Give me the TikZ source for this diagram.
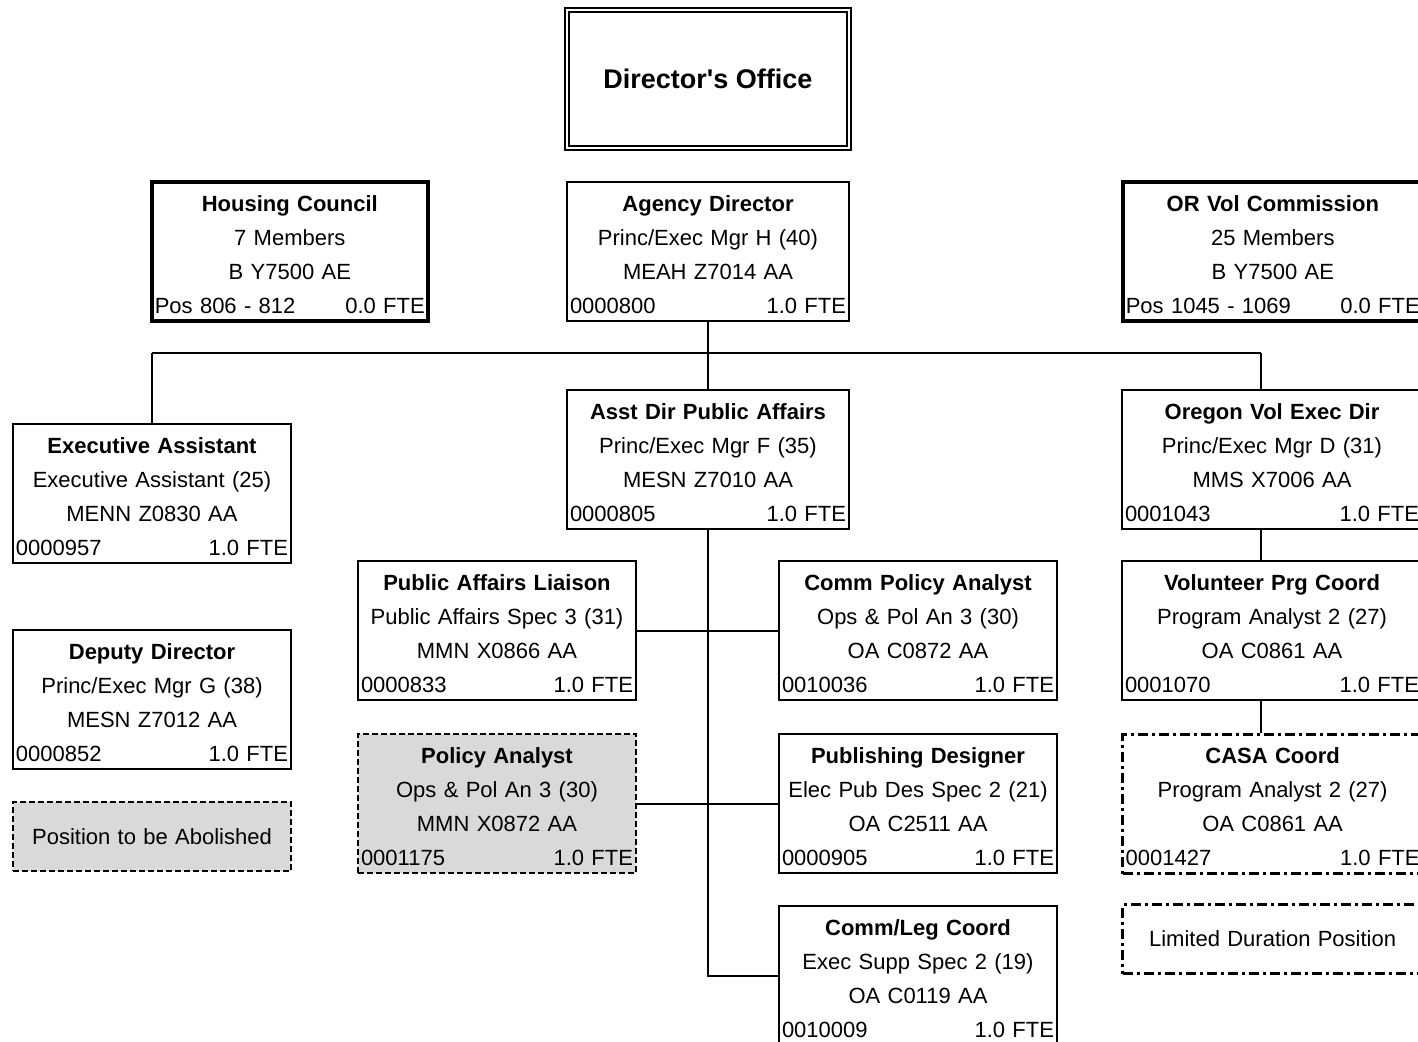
\documentclass[tikz,border=0pt]{standalone}
\usepackage{fontspec}
\newfontfamily\orgfont{Liberation Sans}
\usepackage{tikz}
\usetikzlibrary{positioning}
\definecolor{abolgray}{RGB}{217,217,217}
% position title line, with a little extra room above it
\newcommand{\ptitle}[1]{\rule{0pt}{11pt}\textbf{#1}}

\begin{document}
\begin{tikzpicture}[x=0.5pt, y=-0.5pt,
    posn/.style={draw, line width=1pt, anchor=north west,
        minimum height=69.5pt, inner xsep=1.5pt, inner ysep=0pt,
        text width=136pt, align=center,
        font=\orgfont\fontsize{11}{17}\selectfont},
    wide/.style={text width=138pt},
    edgebox/.style={text width=147pt},
    board/.style={posn, line width=1.8pt, text width=135pt},
    abolish/.style={posn, fill=abolgray, dash pattern=on 3pt off 1.5pt},
    limited/.style={posn, line width=1.6pt,
        dash pattern=on 5pt off 2pt on 1.5pt off 2pt},
    legend/.style={minimum height=34.5pt},
    office/.style={draw, line width=0.9pt, double, double distance=1.2pt,
        anchor=north west, minimum width=141pt, minimum height=69pt,
        font=\orgfont\bfseries\fontsize{13.5}{16}\selectfont},
    conn/.style={line width=1pt}]

    \useasboundingbox (0,0) rectangle (1418,1042);
    \clip (0,0) rectangle (1418,1042);

    \node[office] (office) at (566,9) {Director's Office};

    % top row
    \node[board] (housing) at (150,180)
        {\ptitle{Housing Council}\\7 Members\\B Y7500 AE\\Pos 806 - 812\hfill 0.0 FTE};
    \node[posn, wide] (agency) at (566,181)
        {\ptitle{Agency Director}\\Princ/Exec Mgr H (40)\\MEAH Z7014 AA\\0000800\hfill 1.0 FTE};
    \node[board, edgebox] (orvol) at (1121,180)
        {\ptitle{OR Vol Commission}\\25 Members\\B Y7500 AE\\Pos 1045 - 1069\hfill 0.0 FTE};

    % second row
    \node[posn] (execasst) at (12,423)
        {\ptitle{Executive Assistant}\\Executive Assistant (25)\\MENN Z0830 AA\\0000957\hfill 1.0 FTE};
    \node[posn, wide] (asstdir) at (566,389)
        {\ptitle{Asst Dir Public Affairs}\\Princ/Exec Mgr F (35)\\MESN Z7010 AA\\0000805\hfill 1.0 FTE};
    \node[posn, edgebox] (oregon) at (1121,389)
        {\ptitle{Oregon Vol Exec Dir}\\Princ/Exec Mgr D (31)\\MMS X7006 AA\\0001043\hfill 1.0 FTE};

    % staff
    \node[posn] (pubaff) at (357,560)
        {\ptitle{Public Affairs Liaison}\\Public Affairs Spec 3 (31)\\MMN X0866 AA\\0000833\hfill 1.0 FTE};
    \node[posn] (commpol) at (778,560)
        {\ptitle{Comm Policy Analyst}\\Ops \& Pol An 3 (30)\\OA C0872 AA\\0010036\hfill 1.0 FTE};
    \node[posn, edgebox] (volprg) at (1121,560)
        {\ptitle{Volunteer Prg Coord}\\Program Analyst 2 (27)\\OA C0861 AA\\0001070\hfill 1.0 FTE};
    \node[posn] (deputy) at (12,629)
        {\ptitle{Deputy Director}\\Princ/Exec Mgr G (38)\\MESN Z7012 AA\\0000852\hfill 1.0 FTE};
    \node[abolish] (polan) at (357,733)
        {\ptitle{Policy Analyst}\\Ops \& Pol An 3 (30)\\MMN X0872 AA\\0001175\hfill 1.0 FTE};
    \node[posn] (publish) at (778,733)
        {\ptitle{Publishing Designer}\\Elec Pub Des Spec 2 (21)\\OA C2511 AA\\0000905\hfill 1.0 FTE};
    \node[limited, edgebox] (casa) at (1121,733)
        {\ptitle{CASA Coord}\\Program Analyst 2 (27)\\OA C0861 AA\\0001427\hfill 1.0 FTE};
    \node[posn] (commleg) at (778,905)
        {\ptitle{Comm/Leg Coord}\\Exec Supp Spec 2 (19)\\OA C0119 AA\\0010009\hfill 1.0 FTE};

    % key
    \node[abolish, legend] (abolkey) at (12,801) {Position to be Abolished};
    \node[limited, edgebox, legend] (ldkey) at (1121,903) {Limited Duration Position};

    % reporting lines
    \coordinate (busL) at (150,353);
    \coordinate (busR) at (1261,353);
    \draw[conn] (agency.south) -- (agency.south |- busL);
    \draw[conn] (execasst.north |- busL) -- (busR);
    \draw[conn] (execasst.north |- busL) -- (execasst.north);
    \draw[conn] (asstdir.north |- busL) -- (asstdir.north);
    \draw[conn] (busR) -- (busR |- oregon.north);
    \draw[conn] (busR |- oregon.south) -- (busR |- volprg.north);
    \draw[conn] (busR |- volprg.south) -- (busR |- casa.north);
    \draw[conn] (asstdir.south) -- (asstdir.south |- commleg.west) -- (commleg.west);
    \draw[conn] (pubaff.east) -- (commpol.west);
    \draw[conn] (polan.east) -- (publish.west);

\end{tikzpicture}
\end{document}
